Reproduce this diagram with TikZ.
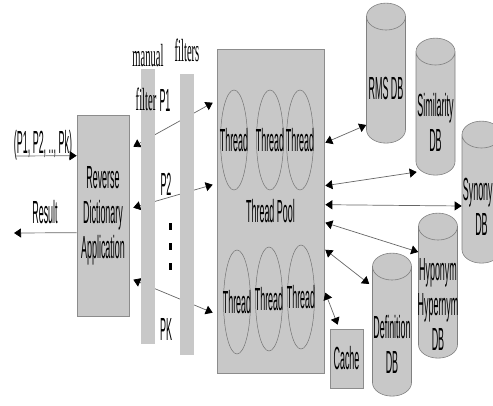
\documentclass[tikz,border=0pt]{standalone}
\usepackage{fontspec}
\setmainfont{Liberation Sans}[FakeStretch=0.28]
\newfontfamily\narrowserif{Liberation Serif}[FakeStretch=0.33]
\usetikzlibrary{arrows.meta, shapes.geometric, calc}
\definecolor{boxgray}{RGB}{200,200,200}

\tikzset{
  graybox/.style={draw=black!45, fill=boxgray, line width=0.6pt, inner sep=0pt},
  filterbar/.style={fill=boxgray, inner sep=0pt, minimum width=14pt},
  thr/.style={ellipse, draw=black!55, line width=0.5pt, minimum width=27pt, inner sep=0pt},
  dbcyl/.style={cylinder, shape border rotate=90, aspect=0.74, draw=black!50,
    line width=0.6pt, fill=boxgray, inner sep=0pt, minimum width=39pt},
  dbtext/.style={align=center, inner sep=0pt},
  twoway/.style={<->, draw=black!60, line width=0.7pt}
}

\begin{document}
\begin{tikzpicture}[x=1pt, y=-1pt, >={Triangle[length=7pt,width=9pt,color=black]},
    font=\fontsize{32}{35}\selectfont]
    \useasboundingbox (0,0) rectangle (493,406);

    % Application and thread pool
    \node[graybox, minimum width=52pt, minimum height=201pt, align=center] (rda) at (103,215.5)
        {Reverse\\Dictionary\\Application};
    \node[graybox, minimum width=107pt, minimum height=324pt] (tp) at (270.5,211) {Thread Pool};

    % Threads
    \node[thr, minimum height=100pt] (t1) at (234,140) {};
    \node[thr, minimum height=100pt] (t2) at (270,140) {};
    \node[thr, minimum height=100pt] (t3) at (300,140) {};
    \node[thr, minimum height=104pt] (t4) at (237,302) {};
    \node[thr, minimum height=104pt] (t5) at (269,299) {};
    \node[thr, minimum height=104pt] (t6) at (301,297) {};
    \foreach \t in {t1,t2,t3,t4,t5,t6}
        \node at (\t) {Thread};

    % Databases and cache
    \node[dbcyl, minimum height=140pt] (rms) at (386,80) {\phantom{Similarity}};
    \node[dbcyl, minimum height=137pt] (sim) at (435.5,113.5) {\phantom{Similarity}};
    \node[dbcyl, minimum height=142pt] (syn) at (481.5,199) {\phantom{Similarity}};
    \node[dbcyl, minimum height=145pt] (hyp) at (438,292.5) {\phantom{Similarity}};
    \node[dbcyl, minimum height=143pt] (def) at (392,331.5) {\phantom{Similarity}};
    \node[dbtext] at ([yshift=-8pt]rms.center) {RMS DB};
    \node[dbtext] at ([yshift=-9pt]sim.center) {Similarity\\DB};
    \node[dbtext] at ([yshift=-8pt]syn.center) {Synonym\\DB};
    \node[dbtext] at ([yshift=-12pt]hyp.center) {Hyponym\\Hypernym\\DB};
    \node[dbtext] at ([yshift=-13pt]def.center) {Definition\\DB};
    \node[graybox, minimum width=33pt, minimum height=59pt] (cache) at (346.5,358.5) {Cache};

    % Input and result
    \coordinate (query) at (15,156);
    \coordinate (result) at (14,233);
    \node at (43,145) {(P1, P2, .., Pk)};
    \draw[->, draw=black!60, line width=0.7pt] (query) -- ([shift={(0,41)}]rda.north west);
    \node at (45,212) {Result};
    \draw[->, draw=black!60, line width=0.7pt] ([shift={(0,118)}]rda.north west) -- (result);

    % Filter paths
    \draw[twoway] ([shift={(4,32)}]rda.north east) -- ([shift={(-4,54)}]tp.north west);
    \draw[twoway] ([shift={(4,93)}]rda.north east) -- ([shift={(-4,136)}]tp.north west);
    \draw[twoway] ([shift={(4,165)}]rda.north east) -- ([shift={(-4,264)}]tp.north west);

    % Filters
    \node[filterbar, minimum height=275pt] (manual) at (148,206.5) {};
    \node[filterbar, minimum height=281pt] (filters) at (187,214.5) {};
    \node at (148,56) {\narrowserif manual};
    \node at (187,50) {\narrowserif filters};
    \node at (146,99) {\narrowserif filter};
    \node at (165,100) {P1};
    \node at (166,184) {P2};
    \node at (166,329) {PK};
    \foreach \y in {223,243,263}
        \fill (169,\y) rectangle (171.5,\y+7);

    % Database links
    \draw[twoway] ([shift={(1,94)}]tp.north east) -- ([shift={(0,45)}]rms.west);
    \draw[twoway] ([shift={(1,137)}]tp.north east) -- ([shift={(1,58.5)}]sim.west);
    \draw[twoway] ([shift={(1,156)}]tp.north east) -- ([shift={(0,7)}]syn.west);
    \draw[twoway] ([shift={(1,174)}]tp.north east) -- ([shift={(0,-40.5)}]hyp.west);
    \draw[twoway] ([shift={(1,201)}]tp.north east) -- ([shift={(-3,-47.5)}]def.west);
    \draw[twoway] ([shift={(1,244)}]tp.north east) -- ([shift={(8,-4)}]cache.north west);
\end{tikzpicture}
\end{document}
